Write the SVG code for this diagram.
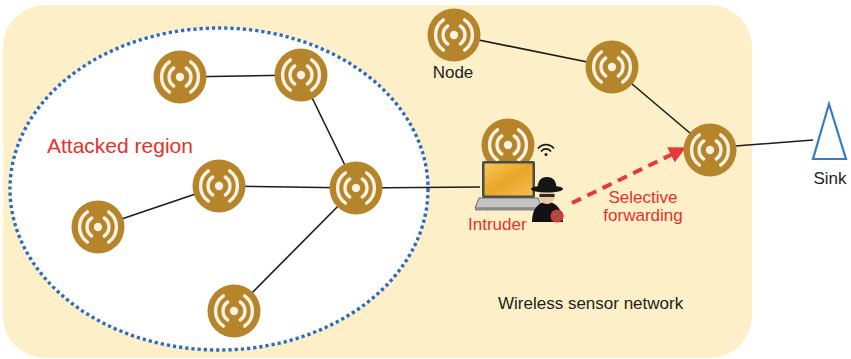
<svg xmlns="http://www.w3.org/2000/svg" xmlns:xlink="http://www.w3.org/1999/xlink" width="851" height="359" viewBox="0 0 851 359">
  <style>
    .lbl { font-family: "Liberation Sans", Arial, sans-serif; font-size: 17px; fill: #1e1e1e; }
    .red { fill: #e8302a; }
    .edge { stroke: #1c1c1c; stroke-width: 1.6; fill: none; }
    .disc { fill: #b5842b; }
    .wave { stroke: #fbf2e2; stroke-width: 3.4; fill: none; stroke-linecap: round; }
  </style>
  <defs>
    <!-- sensor node glyph: disc with radio waves -->
    <g id="sensor">
      <circle class="disc" r="26.5"/>
      <circle r="4.2" fill="#fbf2e2"/>
      <path class="wave" d="M -6.3 -9 A 11 11 0 0 0 -6.3 9 M 6.3 -9 A 11 11 0 0 1 6.3 9"/>
      <path class="wave" d="M -10.6 -15.1 A 18.5 18.5 0 0 0 -10.6 15.1 M 10.6 -15.1 A 18.5 18.5 0 0 1 10.6 15.1"/>
    </g>
    <linearGradient id="screen" x1="0" y1="0" x2="1" y2="1">
      <stop offset="0" stop-color="#f6c955"/>
      <stop offset="0.5" stop-color="#e9a52a"/>
      <stop offset="1" stop-color="#f3c04a"/>
    </linearGradient>
    <marker id="redhead" viewBox="0 0 10 10" refX="8" refY="5" markerWidth="4.2" markerHeight="4.2" orient="auto" markerUnits="strokeWidth">
      <path d="M0 0 L10 5 L0 10 z" fill="#e8393a"/>
    </marker>
  </defs>

  <!-- network area -->
  <rect x="3" y="5" width="749" height="353" rx="42" fill="#fdf0c8"/>
  <!-- attacked region -->
  <ellipse cx="219" cy="189" rx="209" ry="161" fill="#ffffff" stroke="#2b6cc2" stroke-width="3.4" stroke-dasharray="3.2 3"/>

  <g id="connectors">
    <line class="edge" x1="180" y1="77" x2="301" y2="75"/>
    <line class="edge" x1="301" y1="75" x2="356" y2="188"/>
    <line class="edge" x1="219" y1="186" x2="356" y2="188"/>
    <line class="edge" x1="98" y1="227" x2="219" y2="186"/>
    <line class="edge" x1="234" y1="311" x2="356" y2="188"/>
    <line class="edge" x1="356" y1="188" x2="480" y2="187"/>
    <line class="edge" x1="454" y1="35" x2="612" y2="67"/>
    <line class="edge" x1="612" y1="67" x2="710" y2="150"/>
    <line class="edge" x1="710" y1="148" x2="813" y2="140"/>
    <line x1="572" y1="203" x2="683" y2="149" stroke="#e8393a" stroke-width="4" stroke-dasharray="10 7" marker-end="url(#redhead)"/>
  </g>

  <g id="node-a"><use xlink:href="#sensor" x="180" y="77"/></g>
  <g id="node-b"><use xlink:href="#sensor" x="301" y="75"/></g>
  <g id="node-c"><use xlink:href="#sensor" x="356" y="188"/></g>
  <g id="node-d"><use xlink:href="#sensor" x="219" y="186"/></g>
  <g id="node-e"><use xlink:href="#sensor" x="98" y="227"/></g>
  <g id="node-f"><use xlink:href="#sensor" x="234" y="311"/></g>
  <g id="node-g">
    <use xlink:href="#sensor" x="454" y="35"/>
    <text class="lbl" x="453" y="78" text-anchor="middle">Node</text>
  </g>
  <g id="node-h"><use xlink:href="#sensor" x="612" y="67"/></g>
  <g id="node-i"><use xlink:href="#sensor" x="710" y="150"/></g>

  <g id="sink">
    <polygon points="829,104 813,159 846,159" fill="none" stroke="#3a7cc0" stroke-width="2.2" stroke-linejoin="miter"/>
    <text class="lbl" x="830" y="184" text-anchor="middle">Sink</text>
  </g>

  <g id="intruder">
    <use xlink:href="#sensor" x="508" y="145"/>
    <!-- wifi -->
    <g fill="none" stroke="#1a1a1a" stroke-width="1.7" stroke-linecap="round">
      <path d="M 538.5 148 A 10 10 0 0 1 553.5 148"/>
      <path d="M 541.5 151 A 6 6 0 0 1 550.5 151"/>
    </g>
    <circle cx="546" cy="154.5" r="1.5" fill="#1a1a1a"/>
    <!-- laptop -->
    <rect x="482" y="161" width="53" height="37" rx="2" fill="#4a4a4a"/>
    <rect x="484.5" y="163.5" width="48" height="32" fill="url(#screen)"/>
    <polygon points="479,198 538,198 542,208 475,208" fill="#c4c4c4" stroke="#6a6a6a" stroke-width="1"/>
    <rect x="475" y="208" width="67" height="2.5" fill="#8a8a8a"/>
    <!-- hooded figure -->
    <path d="M 532 222 Q 532 204 547 201 Q 562 204 563 222 Z" fill="#111"/>
    <ellipse cx="547" cy="196" rx="8" ry="8" fill="#e9c8a2"/>
    <rect x="539.5" y="194" width="15" height="3" fill="#2a2a2a"/>
    <ellipse cx="547" cy="189" rx="16" ry="3.4" fill="#151515"/>
    <path d="M 537.5 189 Q 537.5 177 547 177 Q 556.5 177 556.5 189 Z" fill="#151515"/>
    <circle cx="557" cy="216" r="5.5" fill="#f3b0a8" fill-opacity="0.5" stroke="#e0302c" stroke-width="2.2"/>
    <line x1="553.2" y1="219.8" x2="560.8" y2="212.2" stroke="#e0302c" stroke-width="2.2"/>
    <text class="lbl red" x="468" y="230">Intruder</text>
  </g>

  <g id="labels">
    <text class="lbl red" x="47" y="153" style="font-size:21px">Attacked region</text>
    <text class="lbl red" x="643" y="203" text-anchor="middle">Selective</text>
    <text class="lbl red" x="643" y="221" text-anchor="middle">forwarding</text>
    <text class="lbl" x="498" y="309">Wireless sensor network</text>
  </g>
</svg>
